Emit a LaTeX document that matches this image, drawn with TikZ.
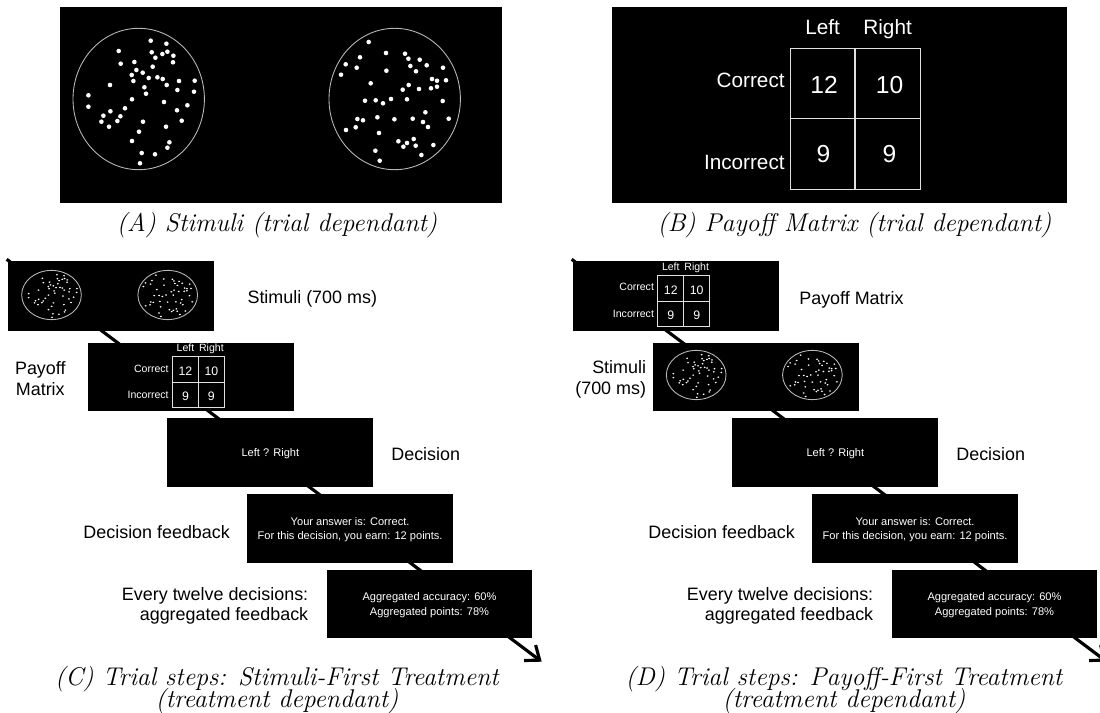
\documentclass[tikz,border=0pt]{standalone}
\usepackage{fontspec}
\newfontfamily\arialfont{Liberation Sans}
\usetikzlibrary{arrows.meta}

% dot positions, relative to the ring centre (pixels of panel A)
\newcommand\leftdots{12/-58.3, 27.7/-55.3, -20/-48, 13/-46.7, 28.7/-47.3, 23.7/-45, 34.7/-43.3, 16.7/-41.3, -18/-35.3, -4.3/-37, 34.3/-36.7, 14/-32.3, -2.3/-29, 4/-26.3, -7/-24, 10/-21, 18.7/-21.7, 24/-20, 40.3/-18, 56/-18.3, -5.3/-18, -28.7/-14, 28/-14, 5.7/-11.7, 38.7/-9, 55.3/-7.3, 7.3/-5.3, -50.3/-3.7, -6.7/0.3, 25.3/3, 48.7/6.3, -50.3/7.7, -13.7/9.3, 38.3/11.3, -28.3/12.3, -35.3/16.7, -18.3/17.3, -37.3/22.7, -21.3/22, 4.3/22.7, 43/21.7, -29.7/27.7, 27.3/27.7, 0.3/32.7, -6.7/42, 30.7/43.3, 28.7/48.7, 3/54, 16.3/55.3, 1.3/64.3}
\newcommand\rightdots{-26/-57, -49/-34.7, -34.7/-41.7, -38/-31.3, -53.7/-24.3, -8.7/-46, 10.3/-45.3, 13.7/-40.3, 25/-39.3, 15.7/-33, 32/-33.7, 21.3/-27.7, -8.3/-28.3, 48.3/-31.3, 37.3/-20, 42.3/-18.3, 51.3/-18.7, 14/-14, -24/-15.7, 8/-9.3, 24.3/-10, 36.3/-10.7, 42.3/-12.3, -29.7/1.7, -19/1.3, -11.7/4.3, -3.7/0, 12.3/0.3, 48/2, -37.3/20, -31.7/21.3, -17.3/18.3, -0.3/20.3, 18/19.7, 30.7/13.3, 28.3/23, 33.3/28, 54/19.7, -39/28.3, -48.7/31, -15.7/34, 3.7/42.3, 12.3/44, 19/40, 8.7/47.7, 21/46.7, 38.7/46, -19.3/51.7, 26.7/56, -15/61.7}

\newcommand\stimpair{%
  \draw [ring] (0,0) ellipse [x radius=65.7, y radius=70.7];
  \foreach \dx/\dy in \leftdots {\fill [dot] (\dx,\dy) circle [radius=2.3];}
  \draw [ring] (256,0) ellipse [x radius=65.7, y radius=70.7];
  \foreach \dx/\dy in \rightdots {\fill [dot] (256+\dx,\dy) circle [radius=2.3];}
}

% small payoff table, from the top left corner of its screen
\newcommand\smallpayoff[1]{%
  \draw [cellline] (84.8,14.2) rectangle (136.7,65.2);
  \draw [cellline] (110.7,14.2) -- (110.7,65.2);
  \draw [cellline] (84.8,39.8) -- (136.7,39.8);
  \node [mlab, anchor=base] (#1l) at (97.8,9.5) {Left};
  \node [mlab, anchor=base] (#1r) at (123.7,9.5) {Right};
  \node [mlab, anchor=base east] (#1c) at (81.3,29.5) {Correct};
  \node [mlab, anchor=base east] (#1i) at (81.3,56.2) {Incorrect};
  \node [mnum, anchor=base] (#1cl) at (97.8,32.8) {12};
  \node [mnum, anchor=base] (#1cr) at (123.7,32.8) {10};
  \node [mnum, anchor=base] (#1il) at (97.8,57.8) {9};
  \node [mnum, anchor=base] (#1ir) at (123.7,57.8) {9};
}

\tikzset{
  screen/.style={fill=black},
  ring/.style={draw=black!28, line width=0.5pt},
  dot/.style={fill=white},
  cellline/.style={draw=black!12, line width=0.6pt},
  sidelab/.style={font=\arialfont\fontsize{10.2}{11.8}\selectfont, inner sep=0pt},
  scrtxt/.style={font=\arialfont\fontsize{6.3}{8}\selectfont, text=white, inner sep=0pt, align=center},
  blab/.style={font=\arialfont\fontsize{11.8}{14}\selectfont, text=white, inner sep=0pt},
  bnum/.style={font=\arialfont\fontsize{14}{16}\selectfont, text=white, inner sep=0pt},
  mlab/.style={font=\arialfont\fontsize{6}{7}\selectfont, text=white, inner sep=0pt},
  mnum/.style={font=\arialfont\fontsize{7}{8}\selectfont, text=white, inner sep=0pt},
  capt/.style={font={\fontsize{14.6}{12.5}\selectfont\itshape\lineskiplimit=-20pt}, inner sep=0pt, align=center},
  flow/.style={line width=1.8pt, -{Straight Barb[length=7pt, width=11pt]}},
}

\begin{document}
\begin{tikzpicture}[x=0.02cm, y=-0.02cm]
\path [use as bounding box] (0,0) rectangle (1100,713);
\clip (0,0) rectangle (1100,713);

% (A) stimuli
\fill [screen] (60,7) rectangle (502,203.3);
\begin{scope}[shift={(138.7,99)}] \stimpair \end{scope}
\node [capt, anchor=base] (capA) at (277,231.5) {(A) Stimuli (trial dependant)};

% (B) payoff matrix
\fill [screen] (612,7) rectangle (1067.3,203.3);
\draw [cellline] (790.3,48.3) rectangle (920.3,189.3);
\draw [cellline] (855,48.3) -- (855,189.3);
\draw [cellline] (790.3,118.3) -- (920.3,118.3);
\node [blab, anchor=base] (bleft) at (822.6,35) {Left};
\node [blab, anchor=base] (bright) at (887.6,35) {Right};
\node [blab, anchor=base east] (bcor) at (785,87.3) {Correct};
\node [blab, anchor=base east] (binc) at (785,170) {Incorrect};
\node [bnum, anchor=base] (bcl) at (824,94) {12};
\node [bnum, anchor=base] (bcr) at (889.5,94) {10};
\node [bnum, anchor=base] (bil) at (823.5,162.7) {9};
\node [bnum, anchor=base] (bir) at (889.5,162.7) {9};
\node [capt, anchor=base] (capB) at (854.5,231.5) {(B) Payoff Matrix (trial dependant)};

% (C) stimuli first
\coordinate (cstart) at (6.7,259.3);
\coordinate (cend) at (541.7,661.7);
\draw [flow] (cstart) -- (cend);
\fill [screen] (8,261.5) rectangle (214,331); % stimuli
\begin{scope}[shift={(51.5,295)}, xscale=0.454, yscale=0.348] \stimpair \end{scope}
\node [sidelab, anchor=base west] (cstimlab) at (247.2,303.3) {Stimuli (700 ms)};
\fill [screen] (87.7,342.5) rectangle (293.7,411); % payoff
\begin{scope}[shift={(87.7,342.5)}] \smallpayoff{cpay} \end{scope}
\node [sidelab, align=center, anchor=north] (cpaylab) at (40.3,361.2) {Payoff\\Matrix};
\fill [screen] (167.4,418.3) rectangle (373.4,486.5); % decision
\node [scrtxt, anchor=base] (cdec) at (270.4,456.7) {Left ? Right};
\node [sidelab, anchor=base west] (cdeclab) at (391,460) {Decision};
\fill [screen] (247.1,494) rectangle (453.1,562.5); % feedback
\node [scrtxt, anchor=north] (cfb) at (350.1,517.4) {Your answer is: Correct.\\For this decision, you earn: 12 points.};
\node [sidelab, anchor=base west] (cfblab) at (83.1,538.7) {Decision feedback};
\fill [screen] (326.8,569.5) rectangle (532.3,637.5); % aggregated
\node [scrtxt, anchor=north] (cagg) at (429.5,592.6) {Aggregated accuracy: 60\%\\Aggregated points: 78\%};
\node [sidelab, align=right, anchor=north east] (cagglab) at (308.6,586.9) {Every twelve decisions:\\aggregated feedback};
\node [capt, anchor=north] (capC) at (277,665.6) {(C) Trial steps: Stimuli-First Treatment\\(treatment dependant)};

% (D) payoff first
\begin{scope}[shift={(565,0)}]
\coordinate (dstart) at (6.7,259.3);
\coordinate (dend) at (541.7,661.7);
\draw [flow] (dstart) -- (dend);
\fill [screen] (8,261.5) rectangle (214,331); % payoff
\begin{scope}[shift={(8,261.5)}] \smallpayoff{dpay} \end{scope}
\node [sidelab, anchor=base west] (dpaylab) at (234,304.3) {Payoff Matrix};
\fill [screen] (87.7,342.5) rectangle (293.7,411); % stimuli
\begin{scope}[shift={(131.2,375)}, xscale=0.454, yscale=0.348] \stimpair \end{scope}
\node [sidelab, align=right, anchor=north east] (dstimlab) at (81.4,360.2) {Stimuli\\(700 ms)};
\fill [screen] (167.4,418.3) rectangle (373.4,486.5); % decision
\node [scrtxt, anchor=base] (ddec) at (270.4,456.7) {Left ? Right};
\node [sidelab, anchor=base west] (ddeclab) at (391,460) {Decision};
\fill [screen] (247.1,494) rectangle (453.1,562.5); % feedback
\node [scrtxt, anchor=north] (dfb) at (350.1,517.4) {Your answer is: Correct.\\For this decision, you earn: 12 points.};
\node [sidelab, anchor=base west] (dfblab) at (83.1,538.7) {Decision feedback};
\fill [screen] (326.8,569.5) rectangle (532.3,637.5); % aggregated
\node [scrtxt, anchor=north] (dagg) at (429.5,592.6) {Aggregated accuracy: 60\%\\Aggregated points: 78\%};
\node [sidelab, align=right, anchor=north east] (dagglab) at (308.6,586.9) {Every twelve decisions:\\aggregated feedback};
\node [capt, anchor=north] (capD) at (279,665.6) {(D) Trial steps: Payoff-First Treatment\\(treatment dependant)};
\end{scope}

\end{tikzpicture}
\end{document}
